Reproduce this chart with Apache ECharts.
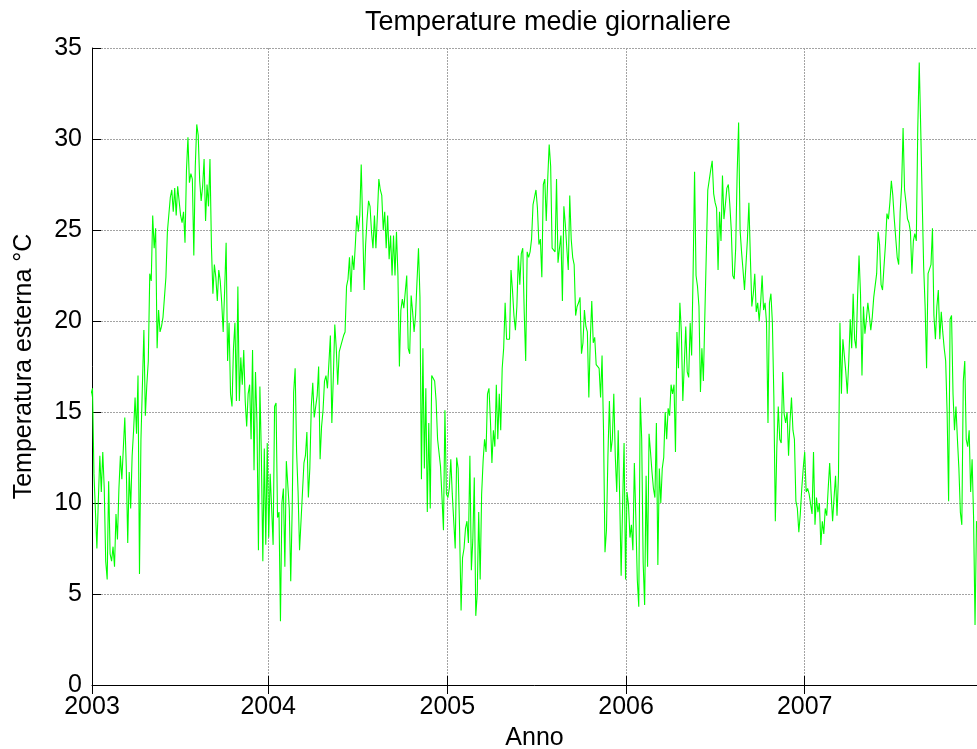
<!DOCTYPE html>
<html>
<head>
<meta charset="utf-8">
<script src="https://cdn.jsdelivr.net/npm/echarts@6/dist/echarts.min.js"></script>
<style>
  html, body { margin: 0; padding: 0; background: #ffffff; }
  #chart { width: 977px; height: 749px; }
</style>
</head>
<body>
<div id="chart"></div>
<script>
// Daily mean outdoor temperature, sampled every 3 days starting 1 Jan 2003
const stepDays = 3;

const temp2003 = [
  15.5,16.0,16.3,11.6,11.6,7.5,10.2,12.6,10.6,12.8,
  10.8,6.8,5.8,11.2,7.2,6.8,7.6,6.5,9.4,8.0,
  10.8,12.6,11.3,13.0,14.7,12.0,7.8,11.7,9.7,12.6,
  14.0,15.8,13.8,17.0,6.1,13.5,16.5,19.5,14.8,16.5,
  17.8,22.6,22.2,25.8,24.0,25.1,18.5,20.6,19.4,19.7,
  20.2,21.3,22.4,24.9,25.0,26.8,27.2,26.0,27.3,25.8,
  27.4,27.5,25.8,25.4,26.0,24.3,28.3,30.1,27.6,28.1,
  27.8,23.6,28.5,30.8,30.2,27.7,26.6,27.4,28.9,25.5,
  27.5,26.3,28.9,24.1,21.5,23.1,22.4,21.1,22.8,22.2,
  21.0,19.4,21.7,24.3,17.8,19.9,16.0,15.3,18.5,19.9,
  15.6,21.9,15.6,18.0,16.5,18.4,15.6,14.2,16.0,16.5,
  13.5,18.4,11.8,17.2,14.4,7.4,16.4,12.6,6.8,13.0,
  7.7,13.3
];

const temp2004 = [
  8.1,11.6,9.7,7.7,15.3,15.5,9.2,9.5,3.5,10.0,
  10.8,6.5,12.3,11.0,9.7,5.7,9.7,16.1,17.4,12.8,
  10.6,7.4,9.0,10.6,12.2,12.6,13.9,10.3,11.9,15.3,
  16.6,14.7,14.7,15.9,17.5,12.4,14.2,15.1,16.7,17.0,
  16.3,17.7,19.2,14.4,16.9,19.8,18.5,16.5,18.3,18.6,
  18.6,19.2,19.4,21.9,22.3,23.5,21.6,23.6,22.8,24.2,
  25.8,24.9,25.8,28.6,25.3,21.7,24.2,25.6,26.6,26.3,
  24.9,24.0,25.8,24.0,25.8,27.8,27.2,26.9,25.0,26.0,
  24.0,25.8,23.4,
  24.7,22.5,24.7,22.5,24.9,22.5,17.5,20.6,21.2,20.7,
  20.8,22.5,18.5,18.2,21.4,20.5,19.4,20.3,22.2,24.0,
  21.3,11.3,18.5,11.9,16.3,9.5,14.4,9.7,17.0,16.9,
  16.7,15.6,13.5,13.5,12.0,10.3,8.5,15.1,10.5
];

const temp2005 = [
  10.3,10.8,12.4,10.5,10.5,7.5,12.5,11.9,8.5,4.1,
  7.0,7.5,8.6,9.0,7.8,12.6,6.3,8.0,11.4,3.8,
  5.0,9.5,5.8,10.5,12.3,13.5,12.8,16.0,16.3,14.5,
  12.2,14.0,13.1,16.5,13.5,16.0,14.0,17.4,18.5,21.0,
  19.0,19.0,19.0,22.8,21.7,20.3,19.5,20.8,23.6,22.0,
  23.7,24.0,20.5,17.8,23.8,23.5,23.8,24.5,26.4,26.8,
  27.2,26.2,24.2,
  24.5,22.4,27.5,27.8,25.5,27.8,29.7,28.5,24.0,24.0,
  23.8,27.8,23.2,24.0,24.7,21.1,26.3,25.3,24.0,22.8,
  26.9,24.5,23.5,23.1,20.3,20.8,21.0,21.3,18.2,18.8,
  20.6,19.7,19.4,15.8,19.0,21.1,18.8,19.1,17.6,17.5,
  17.4,15.8,18.1,14.0,7.3,8.5,12.6,15.6,12.8,13.5,
  16.0,12.6,10.6,14.0,10.3,6.0,9.9,13.3,5.8
];

const temp2006 = [
  10.6,9.9,8.1,8.8,7.4,12.2,9.2,5.8,4.3,15.8,
  13.5,6.7,4.4,11.5,6.5,13.8,12.8,11.7,10.8,10.3,
  14.4,6.6,11.9,10.0,11.9,12.5,15.0,13.5,15.2,14.8,
  16.5,16.0,16.5,12.8,19.4,17.4,21.0,19.4,15.6,17.6,
  19.7,17.2,16.9,19.9,
  18.1,22.6,28.2,22.5,21.9,20.8,16.1,18.5,16.7,20.3,
  20.3,27.2,27.3,28.3,28.8,27.0,26.5,26.2,22.8,26.0,
  24.4,28.0,25.6,26.4,27.3,27.5,26.4,25.0,22.5,22.3,
  24.0,28.1,30.9,25.0,23.8,22.8,21.7,23.1,24.5,26.5,
  23.5,20.8,21.5,22.6,20.5,21.0,20.0,21.0,22.5,20.6,
  21.0,19.9,14.4,21.0,21.5,19.9,15.8,9.0,13.0,15.3,
  13.5,13.3,17.2,14.9,14.4,15.0,12.6,14.5,15.8,14.0,
  13.5,10.1,9.7,8.4,9.4,10.8,11.9
];

const temp2007 = [
  12.8,10.6,10.8,10.5,10.6,9.4,12.8,8.8,10.3,9.5,
  10.0,7.7,9.0,8.3,9.7,9.3,10.8,12.2,10.5,9.0,
  10.3,11.5,9.3,11.5,19.9,
  16.0,19.0,18.1,17.2,16.0,17.8,20.1,18.5,21.5,19.0,
  18.5,21.3,23.6,21.5,17.0,20.8,19.3,20.1,21.0,20.3,
  19.5,20.2,21.3,21.3,22.6,24.9,24.2,22.0,21.7,23.0,
  24.2,25.9,25.6,26.5,27.7,26.9,25.6,25.5,23.5,23.1,
  26.0,27.4,30.6,27.2,26.5,25.6,25.4,24.9,22.6,24.4,
  24.8,24.4,30.6,34.2,30.6,26.7,23.0,20.8,17.4,22.6,
  22.6,23.1,25.1,20.3,19.0,20.8,21.7,19.0,20.5,19.4,
  18.5,17.8,14.9,10.1,20.1,20.3,16.0,14.0,15.3,13.5,
  11.9,9.5,8.8,16.7,17.8,13.5,13.1,14.0,10.6,12.4,
  9.2,3.3,9.0,8.5,9.5,10.0
];

// x-axis ticks (days since 1 Jan 2003) and their labels
const xTickDays = [5, 365, 731, 1096, 1461];
const xTickLabels = ['2003', '2004', '2005', '2006', '2007'];
// visible day range: the plot runs off the right edge of the page
const xMinDay = 5;
const xMaxDay = 1813;

// y-axis range
const yMin = 0, yMax = 35, yStep = 5;

const titleText = 'Temperature medie giornaliere';
const xName = 'Anno';
const yName = 'Temperatura esterna \u00B0C';

const allTemps = [].concat(temp2003, temp2004, temp2005, temp2006, temp2007);
const seriesData = allTemps.map((v, i) => [i * stepDays, v]);

const FONT = '"Liberation Sans", Arial, Helvetica, sans-serif';
const gridStyle = { color: '#a3a3a3', width: 1, type: [2, 1] };

const chart = echarts.init(document.getElementById('chart'), null, { renderer: 'canvas' });

chart.setOption({
  animation: false,
  backgroundColor: '#ffffff',
  textStyle: { fontFamily: FONT },
  title: {
    text: titleText,
    left: 543,
    top: 4,
    textAlign: 'center',
    textStyle: { fontFamily: FONT, fontSize: 27, fontWeight: 'normal', color: '#000' }
  },
  grid: {
    left: 92, top: 48, right: 0, height: 637,
    containLabel: false,
    outerBoundsMode: 'none'
  },
  xAxis: [
    {
      type: 'value',
      position: 'bottom',
      min: xMinDay,
      max: xMaxDay,
      name: xName,
      nameLocation: 'middle',
      nameGap: 41,
      nameTextStyle: { fontFamily: FONT, fontSize: 25, color: '#000' },
      axisLine: { show: true, onZero: false, lineStyle: { color: '#000', width: 1 } },
      axisTick: { show: true, inside: true, length: 9, customValues: xTickDays,
                  lineStyle: { color: '#000', width: 1 } },
      axisLabel: {
        show: true, margin: 10, fontFamily: FONT, fontSize: 25, color: '#000',
        customValues: xTickDays,
        formatter: (v) => xTickLabels[xTickDays.indexOf(v)] || ''
      },
      splitLine: { show: true, lineStyle: gridStyle }
    },
    {
      type: 'value',
      position: 'top',
      min: xMinDay,
      max: xMaxDay,
      axisLine: { show: false },
      axisTick: { show: true, inside: true, length: 9, customValues: xTickDays,
                  lineStyle: { color: '#000', width: 1 } },
      axisLabel: { show: false },
      splitLine: { show: false }
    }
  ],
  yAxis: {
    type: 'value',
    min: yMin,
    max: yMax,
    interval: yStep,
    name: yName,
    nameLocation: 'middle',
    nameGap: 55,
    nameTextStyle: { fontFamily: FONT, fontSize: 25, color: '#000' },
    axisLine: { show: true, onZero: false, lineStyle: { color: '#000', width: 1 } },
    axisTick: { show: true, inside: true, length: 9, lineStyle: { color: '#000', width: 1 } },
    axisLabel: { margin: 10, fontFamily: FONT, fontSize: 25, color: '#000' },
    splitLine: { show: true, lineStyle: gridStyle }
  },
  series: [
    {
      type: 'line',
      xAxisIndex: 0,
      yAxisIndex: 0,
      data: seriesData,
      showSymbol: false,
      symbol: 'none',
      clip: true,
      silent: true,
      lineStyle: { color: '#00ff00', width: 1.1 }
    }
  ]
});
</script>
</body>
</html>
